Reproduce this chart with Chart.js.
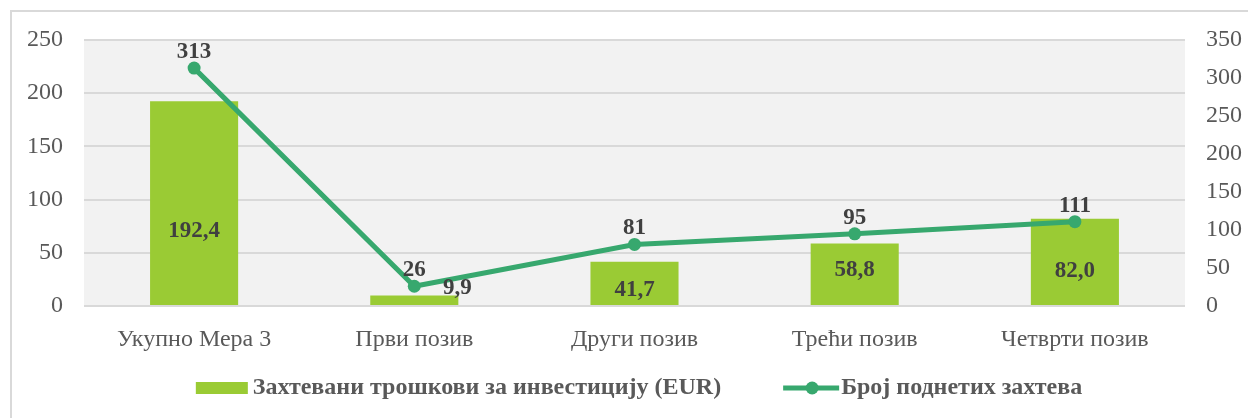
<!DOCTYPE html>
<html>
<head>
<meta charset="utf-8">
<script src="https://cdn.jsdelivr.net/npm/chart.js@4/dist/chart.umd.min.js"></script>
<style>
  body { margin: 0; background: #fff; }
  canvas { display: block; }
</style>
</head>
<body>
<canvas id="comboChart" width="1248" height="418"></canvas>
<script>
const categories = ['Укупно Мера 3', 'Први позив', 'Други позив', 'Трећи позив', 'Четврти позив'];
const costValues = [192.4, 9.9, 41.7, 58.8, 82.0];
const requestCounts = [313, 26, 81, 95, 111];
const leftTicks = [0, 50, 100, 150, 200, 250];
const rightTicks = [0, 50, 100, 150, 200, 250, 300, 350];
const seriesNames = ['Захтевани трошкови за инвестицију (EUR)', 'Број поднетих захтева'];

const barColor = '#9ACB34';
const lineColor = '#37A86E';
const serif = '"Liberation Serif", "Times New Roman", serif';

// manual label nudges, like the hand-placed labels in the original
const barLabelShift = [28, 0, 7, -4, 9];

const decor = {
    id: 'decor',
    beforeDraw(chart) {
        const ctx = chart.ctx;
        const a = chart.chartArea;
        ctx.save();
        ctx.fillStyle = '#fff';
        ctx.fillRect(0, 0, chart.width, chart.height);
        ctx.strokeStyle = '#d9d9d9';
        ctx.lineWidth = 2;
        ctx.strokeRect(11, 11, chart.width + 20, chart.height + 20);
        ctx.fillStyle = '#f2f2f2';
        ctx.fillRect(a.left, a.top, a.right - a.left, a.bottom - a.top);
        ctx.restore();
    },
    afterDatasetsDraw(chart) {
        const ctx = chart.ctx;
        ctx.save();
        ctx.fillStyle = '#404040';
        ctx.font = 'bold 23px ' + serif;
        ctx.textAlign = 'center';
        ctx.textBaseline = 'middle';

        chart.getDatasetMeta(0).data.forEach((bar, i) => {
            const txt = costValues[i].toFixed(1).replace('.', ',');
            if (i === 1) {
                ctx.fillText(txt, bar.x + 43, bar.y - 7);
            } else {
                ctx.fillText(txt, bar.x, (bar.y + bar.base) / 2 + barLabelShift[i]);
            }
        });
        chart.getDatasetMeta(1).data.forEach((pt, i) => {
            ctx.fillText(String(requestCounts[i]), pt.x, pt.y - 16);
        });
        ctx.restore();
    },
    afterDraw(chart) {
        // legend in the Excel style
        const ctx = chart.ctx;
        ctx.save();
        ctx.font = 'bold 24px ' + serif;
        ctx.textBaseline = 'middle';
        const w1 = ctx.measureText(seriesNames[0]).width;
        const w2 = ctx.measureText(seriesNames[1]).width;
        const total = 52 + 5 + w1 + 62 + 56 + 2 + w2;
        let x = 639 - total / 2;
        const y = 388;
        ctx.fillStyle = barColor;
        ctx.fillRect(x, y - 6, 52, 12);
        x += 57;
        ctx.fillStyle = '#595959';
        ctx.fillText(seriesNames[0], x, y);
        x += w1 + 62;
        ctx.strokeStyle = lineColor;
        ctx.lineWidth = 5;
        ctx.beginPath();
        ctx.moveTo(x, y);
        ctx.lineTo(x + 56, y);
        ctx.stroke();
        ctx.fillStyle = lineColor;
        ctx.beginPath();
        ctx.arc(x + 29, y, 6.5, 0, Math.PI * 2);
        ctx.fill();
        x += 58;
        ctx.fillStyle = '#595959';
        ctx.fillText(seriesNames[1], x, y);
        ctx.restore();
    }
};

new Chart(document.getElementById('comboChart').getContext('2d'), {
    data: {
        labels: categories,
        datasets: [{
            type: 'bar',
            label: seriesNames[0],
            data: costValues,
            backgroundColor: barColor,
            yAxisID: 'y',
            barPercentage: 0.4,
            categoryPercentage: 1,
            order: 1
        }, {
            type: 'line',
            label: seriesNames[1],
            data: requestCounts,
            borderColor: lineColor,
            backgroundColor: lineColor,
            borderWidth: 5,
            pointRadius: 6.5,
            pointBackgroundColor: lineColor,
            pointBorderWidth: 0,
            tension: 0,
            yAxisID: 'y1',
            order: 0
        }]
    },
    options: {
        responsive: false,
        animation: false,
        layout: { padding: { top: 40, left: 0, right: 0, bottom: 0 } },
        plugins: {
            legend: { display: false },
            tooltip: { enabled: false }
        },
        scales: {
            x: {
                grid: { display: false },
                border: { display: false },
                ticks: { color: '#595959', font: { family: serif, size: 24 }, padding: 11, maxRotation: 0 },
                afterFit: (s) => { s.height = 112; }
            },
            y: {
                position: 'left',
                min: 0,
                max: 250,
                afterBuildTicks: (s) => { s.ticks = leftTicks.map(v => ({ value: v })); },
                grid: { color: '#d9d9d9', lineWidth: 2, drawTicks: false },
                border: { display: false },
                ticks: { color: '#595959', font: { family: serif, size: 24 }, padding: 21 },
                afterFit: (s) => { s.width = 84; }
            },
            y1: {
                position: 'right',
                min: 0,
                max: 350,
                afterBuildTicks: (s) => { s.ticks = rightTicks.map(v => ({ value: v })); },
                grid: { display: false, drawTicks: false },
                border: { display: false },
                ticks: { color: '#595959', font: { family: serif, size: 24 }, padding: 21 },
                afterFit: (s) => { s.width = 63; }
            }
        }
    },
    plugins: [decor]
});
</script>
</body>
</html>
